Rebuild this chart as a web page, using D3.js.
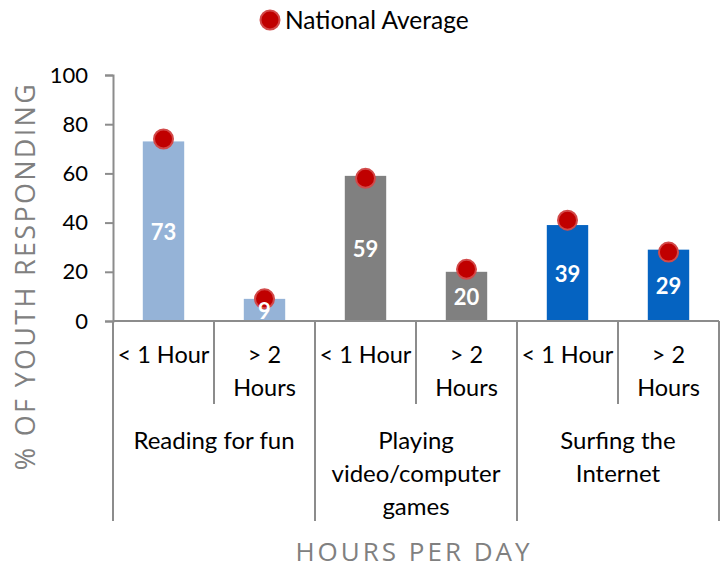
<!DOCTYPE html>
<html>
<head>
<meta charset="utf-8">
<script src="https://cdn.jsdelivr.net/npm/d3@7"></script>
<style>
  body { margin: 0; background: #fff; }
  text { font-family: Lato, "Open Sans", sans-serif; }
</style>
</head>
<body>
<script>
// chart data
const groups = ["Reading for fun", "Playing video/computer games", "Surfing the Internet"];
const groupLines = [["Reading for fun"], ["Playing", "video/computer", "games"], ["Surfing the", "Internet"]];
const hours = ["< 1 Hour", "> 2 Hours"];
const hourLines = [["< 1 Hour"], ["> 2", "Hours"]];
const youth = [73, 9, 59, 20, 39, 29];
const national = [74, 9, 58, 21, 41, 28];
const yTicks = [0, 20, 40, 60, 80, 100];

const groupColors = ["#95b3d7", "#808080", "#0563c1"];
const axisColor = "#8c8c8c";

const width = 723, height = 569;
const margin = {top: 75, left: 113, right: 4, bottom: 248};

const svg = d3.select("body")
  .append("svg")
  .attr("width", width)
  .attr("height", height);

// one slot per group/hour pair
const slots = [];
groups.forEach((g, gi) => {
  hours.forEach((h, hi) => {
    slots.push({key: gi + "-" + hi, group: gi, hour: hi, value: youth[gi * 2 + hi], avg: national[gi * 2 + hi]});
  });
});

const x = d3.scaleBand()
  .domain(slots.map(d => d.key))
  .range([margin.left, width - margin.right])
  .padding(0);

const y = d3.scaleLinear()
  .domain([0, 100])
  .range([height - margin.bottom, margin.top]);

const y0 = y(0);
const barW = x.bandwidth() * 0.41;

// y axis
const yAxis = svg.append("g")
  .attr("transform", "translate(" + margin.left + ",0)")
  .call(d3.axisLeft(y).tickValues(yTicks).tickSize(8).tickPadding(17));
yAxis.select(".domain").attr("stroke", axisColor).attr("stroke-width", 2);
yAxis.selectAll(".tick line").attr("stroke", axisColor).attr("stroke-width", 2);
yAxis.selectAll(".tick text")
  .attr("fill", "#000")
  .style("font-size", "22px")
  .style("font-family", "Lato, sans-serif");

// bars
svg.selectAll("rect.bar")
  .data(slots)
  .join("rect")
  .attr("class", "bar")
  .attr("x", d => x(d.key) + (x.bandwidth() - barW) / 2)
  .attr("y", d => y(d.value))
  .attr("width", barW)
  .attr("height", d => y0 - y(d.value))
  .attr("fill", d => groupColors[d.group]);

// national average markers
svg.selectAll("circle.avg")
  .data(slots)
  .join("circle")
  .attr("class", "avg")
  .attr("cx", d => x(d.key) + x.bandwidth() / 2)
  .attr("cy", d => y(d.avg))
  .attr("r", 9.5)
  .attr("fill", "#c00000")
  .attr("stroke", "#d24a4a")
  .attr("stroke-width", 2);

// value labels (drawn over the markers, like the original)
svg.selectAll("text.val")
  .data(slots)
  .join("text")
  .attr("class", "val")
  .attr("x", d => x(d.key) + x.bandwidth() / 2)
  .attr("y", d => (y(d.value) + y0) / 2 + 9)
  .attr("text-anchor", "middle")
  .attr("fill", "#fff")
  .style("font-size", "22px")
  .style("font-weight", "bold")
  .text(d => d.value);

// category axis: baseline and dividers
svg.append("line")
  .attr("x1", margin.left).attr("x2", width - margin.right)
  .attr("y1", y0).attr("y2", y0)
  .attr("stroke", axisColor).attr("stroke-width", 2);

const shortBottom = y0 + 83, longBottom = y0 + 200;
const edges = slots.map(d => x(d.key)).concat([x(slots[slots.length - 1].key) + x.bandwidth()]);
svg.selectAll("line.div")
  .data(edges)
  .join("line")
  .attr("class", "div")
  .attr("x1", d => d).attr("x2", d => d)
  .attr("y1", y0)
  .attr("y2", (d, i) => i % 2 === 0 ? longBottom : shortBottom)
  .attr("stroke", axisColor).attr("stroke-width", 2);

// hour labels
const hourG = svg.selectAll("g.hour")
  .data(slots)
  .join("g")
  .attr("class", "hour")
  .attr("transform", d => "translate(" + (x(d.key) + x.bandwidth() / 2) + "," + (y0 + 42) + ")");
hourG.selectAll("text")
  .data(d => hourLines[d.hour])
  .join("text")
  .attr("y", (d, i) => i * 33)
  .attr("text-anchor", "middle")
  .style("font-size", "23.5px")
  .attr("fill", "#000")
  .text(d => d);

// group labels
const groupG = svg.selectAll("g.grp")
  .data(groups)
  .join("g")
  .attr("class", "grp")
  .attr("transform", (d, i) => "translate(" + (x(i + "-0") + x.bandwidth()) + "," + (y0 + 128) + ")");
groupG.selectAll("text")
  .data((d, i) => groupLines[i])
  .join("text")
  .attr("y", (d, i) => i * 33)
  .attr("text-anchor", "middle")
  .style("font-size", "24px")
  .attr("fill", "#000")
  .text(d => d);

// axis titles
svg.append("text")
  .attr("transform", "translate(35,276) rotate(-90)")
  .attr("text-anchor", "middle")
  .attr("fill", "#808080")
  .style("font-family", "'Open Sans', sans-serif")
  .style("font-size", "27px")
  .style("letter-spacing", "2.3px")
  .text("% OF YOUTH RESPONDING");

svg.append("text")
  .attr("x", 414)
  .attr("y", 561)
  .attr("text-anchor", "middle")
  .attr("fill", "#808080")
  .style("font-family", "'Open Sans', sans-serif")
  .style("font-size", "26px")
  .style("letter-spacing", "3px")
  .text("HOURS PER DAY");

// legend
const legend = svg.append("g").attr("transform", "translate(270,20)");
legend.append("circle")
  .attr("r", 9.5)
  .attr("fill", "#c00000")
  .attr("stroke", "#d24a4a")
  .attr("stroke-width", 2);
legend.append("text")
  .attr("x", 15)
  .attr("y", 9)
  .style("font-size", "24.5px")
  .attr("fill", "#000")
  .text("National Average");
</script>
</body>
</html>
